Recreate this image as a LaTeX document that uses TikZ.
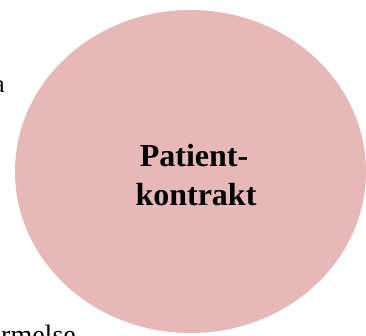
\documentclass[tikz,border=0pt]{standalone}
\usepackage{fontspec}
\setmainfont{Liberation Serif}
\usepackage{xcolor}
\usepackage{tikz}
\usetikzlibrary{shapes.geometric}
\definecolor{kontraktrosa}{HTML}{E6B8B7}

\begin{document}
\begin{tikzpicture}[x=1pt,y=-1pt,
  randtext/.style={inner sep=0pt,font=\fontsize{25}{30}\selectfont},
  titeltext/.style={inner sep=0pt,font=\fontsize{32}{39}\selectfont\bfseries}]
  \useasboundingbox (0,0) rectangle (366,335);
  \clip (0,0) rectangle (366,335); %只显示局部区域
  \node[randtext,anchor=base east] (resta) at (5,92) {a};
  \node[randtext,anchor=base west,font=\fontsize{28}{33}\selectfont] (restb) at (1,344) {rmelse};
  \node[ellipse,fill=kontraktrosa,minimum width=351pt,minimum height=323pt,inner sep=0pt] (kontrakt) at (190.5,171.5) {};
  \node[titeltext,anchor=base] (zeileeins) at (194,166.7) {Patient-};
  \node[titeltext,anchor=base] (zeilezwei) at (196,205.7) {kontrakt}; %两行分开放置
\end{tikzpicture}
\end{document}
